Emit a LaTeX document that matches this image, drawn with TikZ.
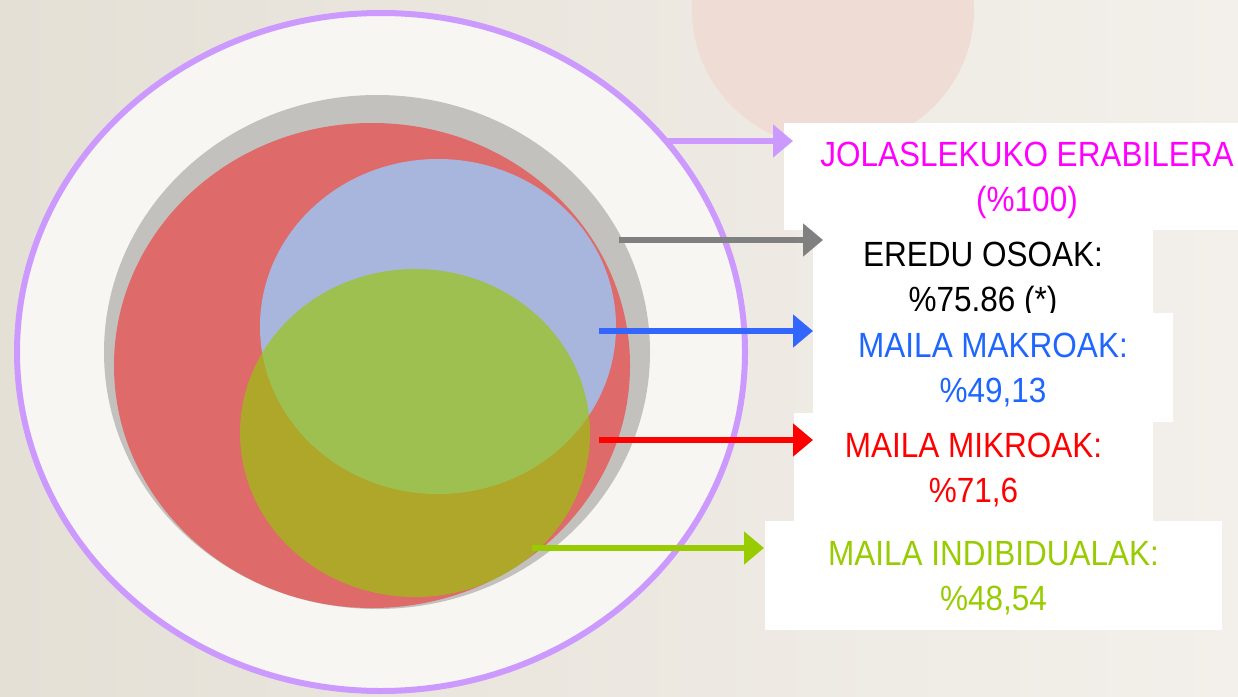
\documentclass[tikz,border=0pt]{standalone}
\usepackage{fontspec}
\setmainfont{Liberation Sans}[FakeStretch=0.9]
\usetikzlibrary{arrows.meta,shapes.geometric}
\definecolor{bgL}{RGB}{229,224,214}
\definecolor{bgR}{RGB}{243,240,235}
\definecolor{pinkbg}{RGB}{239,221,213}
\definecolor{plate}{RGB}{247,246,242}
\definecolor{lilac}{RGB}{204,153,255}
\definecolor{greyE}{RGB}{194,193,189}
\definecolor{redE}{RGB}{222,106,106}
\definecolor{blueE}{RGB}{168,182,222}
\definecolor{greenE}{RGB}{153,197,12}
\definecolor{magT}{RGB}{255,0,255}
\definecolor{blueT}{RGB}{31,102,255}
\definecolor{greenT}{RGB}{153,204,0}
\definecolor{arrGrey}{RGB}{128,128,128}
\definecolor{arrBlue}{RGB}{51,102,255}
\begin{document}
\begin{tikzpicture}[x=1pt,y=-1pt,
  ell/.style={ellipse, inner sep=0pt, outer sep=0pt},
  lab/.style={fill=white, inner sep=0pt, align=center,
    font=\fontsize{35}{45}\selectfont, text height=70pt, text depth=0pt},
  arr/.style={line width=6pt, -{Triangle[length=20pt,width=32pt]}}]
\useasboundingbox (0,0) rectangle (1238,696);
% background
\shade[left color=bgL, right color=bgR] (0,0) rectangle (1238,696);
\fill[pinkbg] (833,10) ellipse [x radius=141, y radius=138];
% ellipses
\node[ell, fill=plate, draw=lilac, line width=6pt, minimum width=728, minimum height=678] (outer) at (381,352) {};
\node[ell, fill=greyE, minimum width=546, minimum height=514] (grey) at (377,352) {};
\node[ell, fill=redE, minimum width=516, minimum height=485] (red) at (372,365.5) {};
\node[ell, fill=blueE, minimum width=356, minimum height=335] (blue) at (438,326.5) {};
\node[ell, fill=greenE, fill opacity=0.67, minimum width=350, minimum height=328] (green) at (415,433) {};
% labels
\node[lab, text=magT, minimum width=486, minimum height=107] (l1) at (1027,176.5) {JOLASLEKUKO ERABILERA\\(\%100)};
\node[lab, text=black, minimum width=340, minimum height=92] (l2) at (983,276) {EREDU OSOAK:\\\%75.86 (*)};
\node[lab, text=blueT, minimum width=360, minimum height=109] (l3) at (993,367.5) {MAILA MAKROAK:\\\%49,13};
\node[lab, text=red, minimum width=359, minimum height=108] (l4) at (973.5,467) {MAILA MIKROAK:\\\%71,6};
\node[lab, text=greenT, minimum width=457, minimum height=109] (l5) at (993.5,575.5) {MAILA INDIBIDUALAK:\\\%48,54};
% arrows
\coordinate (a1s) at (667,141); \coordinate (a1e) at (793,141);
\coordinate (a2s) at (619,240); \coordinate (a2e) at (823,240);
\coordinate (a3s) at (599,331); \coordinate (a3e) at (813,331);
\coordinate (a4s) at (599,440); \coordinate (a4e) at (813,440);
\coordinate (a5s) at (532,548); \coordinate (a5e) at (764,548);
\draw[arr, lilac] (a1s) -- (a1e);
\draw[arr, arrGrey] (a2s) -- (a2e);
\draw[arr, arrBlue] (a3s) -- (a3e);
\draw[arr, red] (a4s) -- (a4e);
\draw[arr, greenT] (a5s) -- (a5e);
\end{tikzpicture}
\end{document}
